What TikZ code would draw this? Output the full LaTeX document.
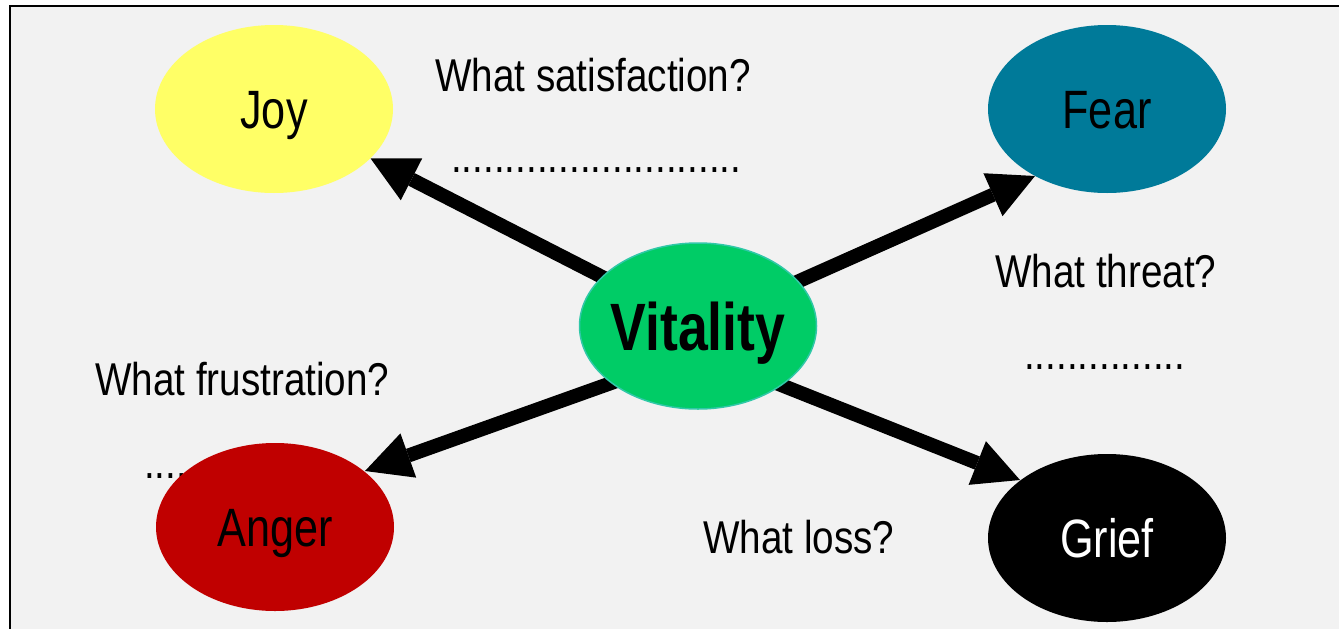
\documentclass[tikz,border=0pt]{standalone}
\usepackage{fontspec}
\setmainfont{Liberation Sans}
\newfontfamily\nodefont{Liberation Sans}[FakeStretch=0.8]
\newfontfamily\labfont{Liberation Sans}[FakeStretch=0.84]
\usetikzlibrary{shapes.geometric,arrows.meta}
\pgfdeclarelayer{bgl}
\pgfdeclarelayer{arrl}
\pgfsetlayers{bgl,arrl,main}
\definecolor{bggray}{HTML}{F2F2F2}
\definecolor{joyc}{HTML}{FFFF66}
\definecolor{fearc}{HTML}{007A99}
\definecolor{angerc}{HTML}{C00000}
\definecolor{vitc}{HTML}{00CC66}
\definecolor{vitb}{HTML}{30C8A8}
\tikzset{
  emo/.style={ellipse, minimum width=238pt, minimum height=168pt, inner sep=0pt,
    font=\nodefont\fontsize{54}{60}\selectfont, text height=39pt, text depth=0pt},
  vitnode/.style={ellipse, minimum width=237pt, minimum height=166pt, inner ysep=0pt, inner xsep=-6pt,
    font=\nodefont\bfseries\fontsize{67}{72}\selectfont, text height=48pt, text depth=0pt},
  lab/.style={font=\labfont\fontsize{46}{50}\selectfont, inner sep=0pt, anchor=base west},
  arr/.style={line width=14pt, -{Triangle[length=46pt,width=47pt,line width=0pt]}}
}
\begin{document}
\begin{tikzpicture}[x=1pt,y=-1pt]
\useasboundingbox (0,0) rectangle (1339,629);
\begin{pgfonlayer}{bgl}
  \fill[white] (0,0) rectangle (1339,629);
  \fill[bggray] (10,6) rectangle (1350,640);
  \draw[line width=2pt] (10,640) -- (10,6) -- (1350,6);
\end{pgfonlayer}
% labels
\node[lab] (qjoy) at (435,91) {What satisfaction?};
\node[lab] (djoy) at (451,172) {...........................};
\node[lab] (qfear) at (995,287) {What threat?};
\node[lab] (dfear) at (1024,369) {...............};
\node[lab] (qanger) at (95,395) {What frustration?};
\node[lab] (danger) at (144,478) {....};
\node[lab] (qgrief) at (703,553) {What loss?};
% emotion nodes
\node[emo, fill=joyc] (joy) at (274,109) {Joy};
\node[emo, fill=fearc] (fear) at (1107,109) {Fear};
\node[emo, fill=angerc] (anger) at (275,527) {Anger};
\node[emo, fill=black, text=white] (grief) at (1107,538) {Grief};
\node[vitnode, fill=vitc, draw=vitb, line width=1.5pt] (vit) at (698,326) {Vitality};
\coordinate (feartip) at (1035,176);
\coordinate (angertip) at (365,471);
\coordinate (grieftip) at (1020,480);
% arrows
\begin{pgfonlayer}{arrl}
  \draw[arr] (vit.center) -- (joy);
  \draw[arr] (vit.center) -- (feartip);
  \draw[arr] ([yshift=-26pt]vit.center) -- (angertip);
  \draw[arr] ([yshift=-26pt]vit.center) -- (grieftip);
\end{pgfonlayer}
\end{tikzpicture}
\end{document}
